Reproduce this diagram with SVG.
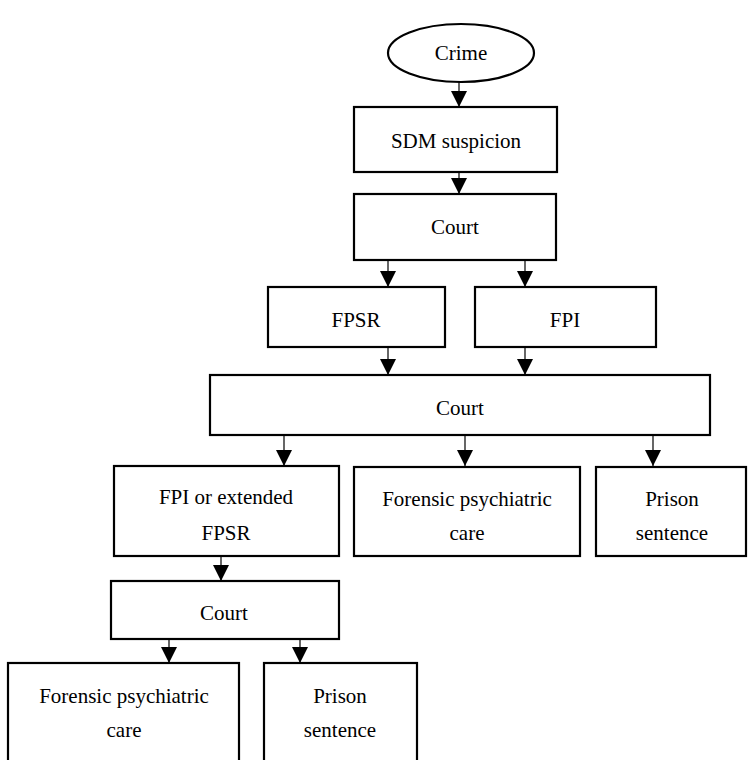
<svg xmlns="http://www.w3.org/2000/svg" width="748" height="760" viewBox="0 0 748 760">
<style>
.box{fill:#fff;stroke:#000;stroke-width:2.2}
text{font-family:'Liberation Serif','Times New Roman',serif;font-size:21px;fill:#000;text-anchor:middle}
.c{stroke:#000;stroke-width:1.2;fill:none;marker-end:url(#ah)}
</style>
<defs>
<marker id="ah" markerUnits="userSpaceOnUse" markerWidth="16" markerHeight="16" refX="14" refY="7" orient="auto" viewBox="0 0 14 14">
<path d="M0,0 L14,7 L0,14 Z" fill="#000"/>
</marker>
</defs>
<rect width="748" height="760" fill="#fff"/>
<g id="connectors">
<line class="c" x1="459" y1="82" x2="459" y2="107"/>
<line class="c" x1="459" y1="172" x2="459" y2="194"/>
<line class="c" x1="388" y1="260" x2="388" y2="287"/>
<line class="c" x1="525" y1="260" x2="525" y2="287"/>
<line class="c" x1="388" y1="347" x2="388" y2="375"/>
<line class="c" x1="525" y1="347" x2="525" y2="375"/>
<line class="c" x1="284" y1="435" x2="284" y2="466"/>
<line class="c" x1="465" y1="435" x2="465" y2="466"/>
<line class="c" x1="653" y1="435" x2="653" y2="466"/>
<line class="c" x1="221" y1="556" x2="221" y2="581"/>
<line class="c" x1="169" y1="639" x2="169" y2="663"/>
<line class="c" x1="300" y1="639" x2="300" y2="663"/>
</g>
<g id="crime"><ellipse class="box" cx="461" cy="53" rx="73" ry="29"/><text x="461" y="60">Crime</text></g>
<g id="sdm"><rect class="box" x="354" y="107" width="203" height="65"/><text x="456" y="148">SDM suspicion</text></g>
<g id="court1"><rect class="box" x="354" y="194" width="202" height="66"/><text x="455" y="234">Court</text></g>
<g id="fpsr"><rect class="box" x="268" y="287" width="177" height="60"/><text x="356" y="327">FPSR</text></g>
<g id="fpi"><rect class="box" x="475" y="287" width="181" height="60"/><text x="565" y="327">FPI</text></g>
<g id="court2"><rect class="box" x="210" y="375" width="500" height="60"/><text x="460" y="415">Court</text></g>
<g id="fpiext"><rect class="box" x="114" y="466" width="225" height="90"/><text x="226" y="504">FPI or extended</text><text x="226" y="540">FPSR</text></g>
<g id="fpc1"><rect class="box" x="354" y="467" width="226" height="89"/><text x="467" y="506">Forensic psychiatric</text><text x="467" y="540">care</text></g>
<g id="prison1"><rect class="box" x="596" y="467" width="150" height="89"/><text x="672" y="506">Prison</text><text x="672" y="540">sentence</text></g>
<g id="court3"><rect class="box" x="111" y="581" width="228" height="58"/><text x="224" y="620">Court</text></g>
<g id="fpc2"><rect class="box" x="8" y="663" width="231" height="102"/><text x="124" y="703">Forensic psychiatric</text><text x="124" y="737">care</text></g>
<g id="prison2"><rect class="box" x="264" y="663" width="153" height="102"/><text x="340" y="703">Prison</text><text x="340" y="737">sentence</text></g>
</svg>
